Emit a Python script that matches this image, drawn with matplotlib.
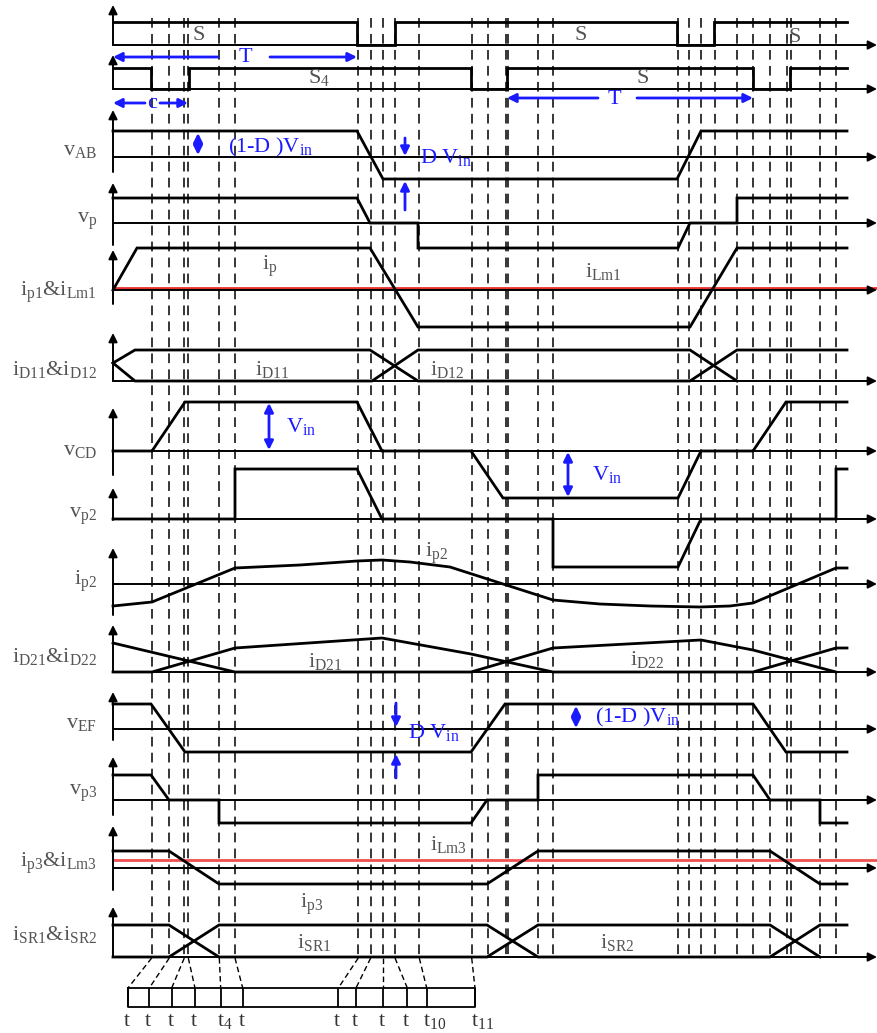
import numpy as np
import matplotlib.pyplot as plt

plt.rcParams['font.family'] = 'Liberation Serif'
plt.rcParams['mathtext.fontset'] = 'custom'
plt.rcParams['mathtext.rm'] = 'Liberation Serif'
plt.rcParams['mathtext.it'] = 'Liberation Serif'
plt.rcParams['lines.scale_dashes'] = False

# switching instants (x positions of the dashed lines)
t_inst = [151.7, 169.3, 184.3, 188.3, 219.3, 235.0, 358.3, 370.7, 382.7, 395.0, 419.3, 471.7,
          487.7, 506.0, 508.3, 538.3, 553.3, 678.3, 689.3, 701.0, 715.0, 737.3, 753.3, 770.0,
          786.7, 790.7, 820.0, 836.0]
# bottom time-bar: which instants map to which box edges
t_from = [151.7, 169.3, 184.3, 188.3, 219.3, 235.0, 358.3, 370.7, 382.7, 395.0, 419.3, 471.7]
t_box = [128.0, 149.3, 171.7, 195.0, 220.7, 242.7, 338.3, 356.0, 382.7, 407.3, 426.7, 475.0]
t_labels = ['t', 't', 't', 't', 't$_4$', 't', 't', 't', 't', 't', 't$_{10}$', 't$_{11}$']

# waveforms: x, level (above the row's zero line)
s1_x = [113, 357, 357, 395, 395, 677, 677, 714, 714, 847]
s1_y = [23, 23, 0, 0, 23, 23, 0, 0, 23, 23]
s4_x = [113, 151, 151, 189, 189, 471, 471, 507, 507, 753, 753, 790, 790, 847]
s4_y = [21, 21, 0, 0, 21, 21, 0, 0, 21, 21, 0, 0, 21, 21]
vab_x = [113, 357, 383, 677, 701, 847]
vab_y = [26, 26, -22, -22, 26, 26]
vp_x = [113, 357, 370, 418, 418, 678, 690, 737, 737, 847]
vp_y = [25, 25, 0, 0, -25, -25, 0, 0, 25, 25]
ip1_x = [113, 137, 370, 418, 690, 737, 847]
ip1_y = [0, 42, 42, -37, -37, 42, 42]
ilm1_y = 2
id11_x = [113, 135, 370, 418, 690, 737, 847]
id11_y = [18, 31, 31, 0, 0, 31, 31]
id12_x = [113, 135, 372, 418, 690, 737]
id12_y = [18, 0, 0, 31, 31, 0]
vcd_x = [113, 152, 185, 357, 382, 471, 503, 678, 701, 753, 786, 847]
vcd_y = [0, 0, 49, 49, 0, 0, -47, -47, 0, 0, 49, 49]
vp2_x = [113, 235, 235, 357, 382, 553, 553, 678, 701, 836, 836, 847]
vp2_y = [0, 0, 50, 50, 0, 0, -48, -48, 0, 0, 50, 50]
ip2_x = [113, 152, 235, 300, 357, 382, 410, 450, 553, 600, 650, 700, 730, 753, 836, 847]
ip2_y = [-22, -18, 16, 19, 23, 24, 22, 17, -16, -20, -22, -23, -22, -19, 16, 16]
id21_x = [113, 152, 235, 382, 471, 553, 753, 836, 847]
id21_y = [0, 0, 24, 34, 18, 0, 0, 24, 24]
id22_x = [113, 235, 471, 553, 701, 753, 836]
id22_y = [29, 0, 0, 24, 32, 22, 0]
vef_x = [113, 151, 185, 471, 505, 753, 786, 847]
vef_y = [25, 25, -23, -23, 25, 25, -23, -23]
vp3_x = [113, 151, 169, 219, 219, 471, 487, 538, 538, 753, 770, 820, 820, 847]
vp3_y = [25, 25, 0, 0, -23, -23, 0, 0, 25, 25, 0, 0, -23, -23]
ip3_x = [113, 169, 219, 487, 538, 770, 820, 847]
ip3_y = [17, 17, -16, -16, 17, 17, -16, -16]
ilm3_y = 8
isr1_x = [113, 169, 219, 487, 538, 770, 820, 847]
isr1_y = [0, 0, 32, 32, 0, 0, 32, 32]
isr2_x = [113, 169, 219, 487, 538, 770, 820]
isr2_y = [32, 32, 0, 0, 32, 32, 0]

# rows: zero line, arrow tip, bottom of vertical axis
rows = {
    's1': (45, 5, 45), 's4': (89, 55, 89), 'vab': (157, 110, 172), 'vp': (223, 183, 245),
    'ip1': (290, 250, 304), 'id1': (381, 333, 381), 'vcd': (451, 408, 475),
    'vp2': (519, 488, 520), 'ip2': (584, 548, 615), 'id2': (672, 625, 672),
    'vef': (729, 692, 740), 'vp3': (800, 757, 815), 'ip3': (868, 826, 890),
    'isr': (957, 907, 957),
}
waves = [('s1', s1_x, s1_y), ('s4', s4_x, s4_y), ('vab', vab_x, vab_y), ('vp', vp_x, vp_y),
         ('ip1', ip1_x, ip1_y), ('id1', id11_x, id11_y), ('id1', id12_x, id12_y),
         ('vcd', vcd_x, vcd_y), ('vp2', vp2_x, vp2_y), ('ip2', ip2_x, ip2_y),
         ('id2', id21_x, id21_y), ('id2', id22_x, id22_y), ('vef', vef_x, vef_y),
         ('vp3', vp3_x, vp3_y), ('ip3', ip3_x, ip3_y), ('isr', isr1_x, isr1_y),
         ('isr', isr2_x, isr2_y)]

row_labels = {
    'vab': 'v$_{AB}$', 'vp': 'v$_{p}$', 'ip1': 'i$_{p1}$&i$_{Lm1}$', 'id1': 'i$_{D11}$&i$_{D12}$',
    'vcd': 'v$_{CD}$', 'vp2': 'v$_{p2}$', 'ip2': 'i$_{p2}$', 'id2': 'i$_{D21}$&i$_{D22}$',
    'vef': 'v$_{EF}$', 'vp3': 'v$_{p3}$', 'ip3': 'i$_{p3}$&i$_{Lm3}$', 'isr': 'i$_{SR1}$&i$_{SR2}$',
}

fig = plt.figure(figsize=(8.77, 10.33), dpi=100)
ax = fig.add_axes([0, 0, 1, 1])
ax.set_xlim(0, 877)
ax.set_ylim(1033, 0)
ax.axis('off')

blue = '#1a1aff'
grey = '#555555'

# dashed time markers
ax.vlines(t_inst, 18, 958, colors='k', linestyles=(0, (7, 4.5)), lw=1.1, zorder=1)
for x0, x1 in zip(t_from, t_box):
    ax.plot([x0, x1], [958, 988], color='k', ls=(0, (4, 2.5)), lw=1.0)

# axes of each row
for key, (base, top, bot) in rows.items():
    ax.annotate('', xy=(113, top), xytext=(113, bot),
                arrowprops=dict(arrowstyle='-|>', color='k', lw=1.4, mutation_scale=13,
                                shrinkA=0, shrinkB=0))
    ax.annotate('', xy=(877, base), xytext=(113, base),
                arrowprops=dict(arrowstyle='-|>', color='k', lw=1.4, mutation_scale=13,
                                shrinkA=0, shrinkB=0))

# magnetizing currents (red)
ax.plot([113, 877], [rows['ip1'][0] - ilm1_y] * 2, color='#e83030', lw=2, zorder=2)
ax.plot([113, 877], [rows['ip3'][0] - ilm3_y] * 2, color='#f05050', lw=2, zorder=2)

# waveforms
for key, xs, ys in waves:
    base = rows[key][0]
    ax.plot(xs, base - np.array(ys), color='k', lw=2.0, zorder=3, solid_joinstyle='miter')

# row labels on the left
label_pos = {'vab': 155, 'vp': 223, 'ip1': 296, 'id1': 375, 'vcd': 455, 'vp2': 518,
             'ip2': 585, 'id2': 662, 'vef': 728, 'vp3': 795, 'ip3': 867, 'isr': 940}
for key, txt in row_labels.items():
    ax.text(97, label_pos[key], txt, ha='right', va='baseline', fontsize=16, color=grey)

# curve labels
curve_txt = [
    (193, 40, 'S'), (574, 40, 'S'), (788, 42, 'S'), (308, 83, 'S$_4$'), (637, 83, 'S'),
    (262, 270, 'i$_p$'), (585, 277, 'i$_{Lm1}$'), (255, 375, 'i$_{D11}$'), (430, 375, 'i$_{D12}$'),
    (425, 557, 'i$_{p2}$'), (308, 667, 'i$_{D21}$'), (630, 665, 'i$_{D22}$'),
    (430, 850, 'i$_{Lm3}$'), (300, 908, 'i$_{p3}$'), (297, 948, 'i$_{SR1}$'), (600, 948, 'i$_{SR2}$'),
]
for x, y, txt in curve_txt:
    ax.text(x, y, txt, ha='left', va='baseline', fontsize=16, color=grey)

# blue dimension arrows
def barrow(x0, y0, x1, y1, style='-|>'):
    ax.annotate('', xy=(x1, y1), xytext=(x0, y0),
                arrowprops=dict(arrowstyle=style, color=blue, lw=2, mutation_scale=13,
                                shrinkA=0, shrinkB=0))

barrow(218, 57, 113, 57); barrow(270, 57, 357, 57)
barrow(598, 98, 507, 98); barrow(637, 98, 753, 98)
barrow(145, 103, 113, 103); barrow(160, 103, 188, 103)
barrow(198, 133, 198, 155, '<|-|>')
barrow(405, 138, 405, 156); barrow(405, 210, 405, 181)
barrow(269, 403, 269, 450, '<|-|>')
barrow(568, 452, 568, 497, '<|-|>')
barrow(396, 703, 396, 727); barrow(396, 778, 396, 754)
barrow(576, 706, 576, 728, '<|-|>')

blue_txt = [
    (245, 57, 'T', 'center', 'center'), (614, 99, 'T', 'center', 'center'),
    (152, 103, 'c', 'center', 'center'),
    (228, 152, '(1-D )V$_{in}$', 'left', 'baseline'), (420, 163, 'D V$_{in}$', 'left', 'baseline'),
    (286, 432, 'V$_{in}$', 'left', 'baseline'), (592, 480, 'V$_{in}$', 'left', 'baseline'),
    (408, 738, 'D V$_{in}$', 'left', 'baseline'), (595, 722, '(1-D )V$_{in}$', 'left', 'baseline'),
]
for x, y, txt, ha, va in blue_txt:
    ax.text(x, y, txt, ha=ha, va=va, fontsize=16, color=blue)

# time bar at the bottom
ax.plot([t_box[0], t_box[-1], t_box[-1], t_box[0], t_box[0]], [988, 988, 1007, 1007, 988],
        color='k', lw=1.3)
ax.vlines(t_box, 988, 1007, colors='k', lw=1.3)
for x, lab in zip(t_box, t_labels):
    ax.text(x - 4, 1026, lab, ha='left', va='baseline', fontsize=16, color='#333333')

fig.savefig('out.png', dpi=100)
